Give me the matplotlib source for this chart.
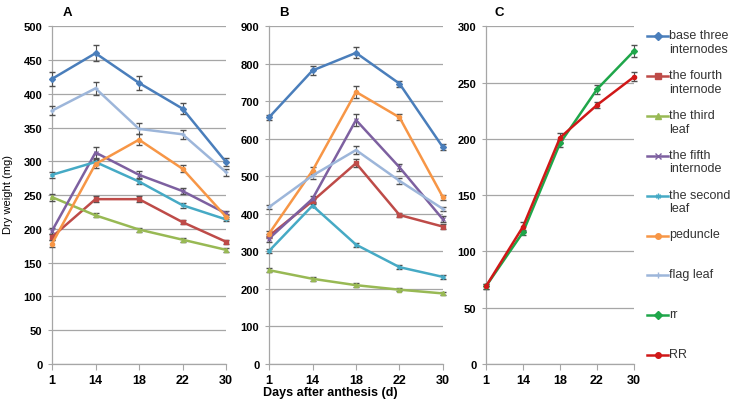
import matplotlib
matplotlib.use("Agg")
import matplotlib.pyplot as plt
from matplotlib.lines import Line2D

plt.rcParams['font.family'] = ['Liberation Sans', 'DejaVu Sans']

days = ["1", "14", "18", "22", "30"]

organs = ["base three\ninternodes", "the fourth\ninternode", "the third\nleaf",
          "the fifth\ninternode", "the second\nleaf", "peduncle", "flag leaf"]
lines_c = ["rr", "RR"]

# panel A: mean dry weight (mg) and error
a_vals = [
    [422, 460, 416, 378, 299],
    [188, 244, 244, 210, 181],
    [247, 220, 199, 184, 169],
    [197, 313, 280, 256, 223],
    [280, 299, 270, 235, 214],
    [178, 296, 332, 289, 218],
    [375, 408, 348, 340, 284],
]
a_err = [
    [10, 12, 10, 8, 6],
    [4, 4, 4, 3, 3],
    [5, 3, 3, 3, 3],
    [4, 8, 5, 4, 3],
    [4, 4, 4, 4, 3],
    [5, 6, 8, 5, 4],
    [7, 10, 8, 7, 5],
]

# panel B
b_vals = [
    [657, 782, 829, 747, 577],
    [341, 434, 535, 397, 366],
    [250, 227, 210, 198, 188],
    [334, 440, 650, 524, 385],
    [301, 422, 318, 258, 232],
    [347, 515, 725, 657, 444],
    [418, 502, 570, 488, 413],
]
b_err = [
    [6, 12, 15, 8, 8],
    [5, 5, 10, 5, 6],
    [6, 5, 5, 4, 4],
    [8, 8, 16, 10, 8],
    [5, 5, 5, 5, 5],
    [8, 10, 15, 8, 6],
    [5, 10, 10, 8, 6],
]

# panel C
c_vals = [
    [69, 117, 196, 244, 278],
    [69, 122, 201, 230, 255],
]
c_err = [
    [2, 2, 3, 4, 5],
    [2, 4, 4, 3, 4],
]

organ_colors = ["#4A7EBB", "#BE4B48", "#98B954", "#7D60A0", "#46AAC5", "#F79646", "#9DB6DA"]
organ_markers = ["D", "s", "^", "x", (6, 2, 0), "o", "+"]
c_colors = ["#1FA64A", "#D01818"]
c_markers = ["D", "o"]

GRID = "#A6A6A6"


def style_axis(ax, ymax, step):
    ax.set_xlim(0, len(days) - 1)
    ax.set_ylim(0, ymax)
    ax.set_xticks(range(len(days)))
    ax.set_xticklabels(days, fontsize=9, fontweight='bold')
    ax.set_yticks(range(0, ymax + 1, step))
    ax.tick_params(axis='y', labelsize=8, length=3, color=GRID, pad=4)
    ax.tick_params(axis='x', length=4, color=GRID, pad=3)
    for lab in ax.get_yticklabels():
        lab.set_fontweight('bold')
    ax.yaxis.grid(True, color=GRID, lw=0.9)
    ax.set_axisbelow(True)
    for s in ['top', 'right']:
        ax.spines[s].set_visible(False)
    for s in ['left', 'bottom']:
        ax.spines[s].set_color(GRID)
        ax.spines[s].set_linewidth(0.9)


def draw_series(ax, vals, errs, colors, markers):
    x = range(len(days))
    for v, e, c, m in zip(vals, errs, colors, markers):
        ax.errorbar(x, v, yerr=e, color=c, lw=1.8, marker=m, ms=3, mew=1,
                    ecolor="#505050", elinewidth=0.8, capsize=2, clip_on=False, zorder=3)


fig = plt.figure(figsize=(7.32, 4.06), dpi=100)
axA = fig.add_axes([52 / 732, 0.101, 174 / 732, 0.832])
axB = fig.add_axes([269 / 732, 0.101, 174 / 732, 0.832])
axC = fig.add_axes([486 / 732, 0.101, 148 / 732, 0.832])

draw_series(axA, a_vals, a_err, organ_colors, organ_markers)
draw_series(axB, b_vals, b_err, organ_colors, organ_markers)
draw_series(axC, c_vals, c_err, c_colors, c_markers)

style_axis(axA, 500, 50)
style_axis(axB, 900, 100)
style_axis(axC, 300, 50)

for ax, lab in zip([axA, axB, axC], ["A", "B", "C"]):
    ax.text(0.06, 1.025, lab, transform=ax.transAxes, fontsize=9.5, fontweight='bold',
            va='bottom', ha='left')

fig.text(8 / 732, 1 - 195 / 406, "Dry weight (mg)", rotation=90, fontsize=8,
         ha='center', va='center')
fig.text(330 / 732, 1 - 393 / 406, "Days after anthesis (d)", fontsize=9,
         fontweight='bold', ha='center', va='center')

# legend, laid out like the spreadsheet legend
labels = organs + lines_c
colors = organ_colors + c_colors
markers = organ_markers + c_markers
for i, (lab, c, m) in enumerate(zip(labels, colors, markers)):
    y = 1 - (37 + 39.9 * i) / 406
    fig.add_artist(Line2D([647 / 732, 657.5 / 732, 668 / 732], [y, y, y], color=c, lw=1.8,
                          marker=m, ms=4, markevery=[1], mew=1,
                          transform=fig.transFigure))
    fig.text(669 / 732, y + 7 / 406, lab, fontsize=9, va='top', ha='left',
             linespacing=1.2, color="#333333")

fig.savefig("out.png", dpi=100)
